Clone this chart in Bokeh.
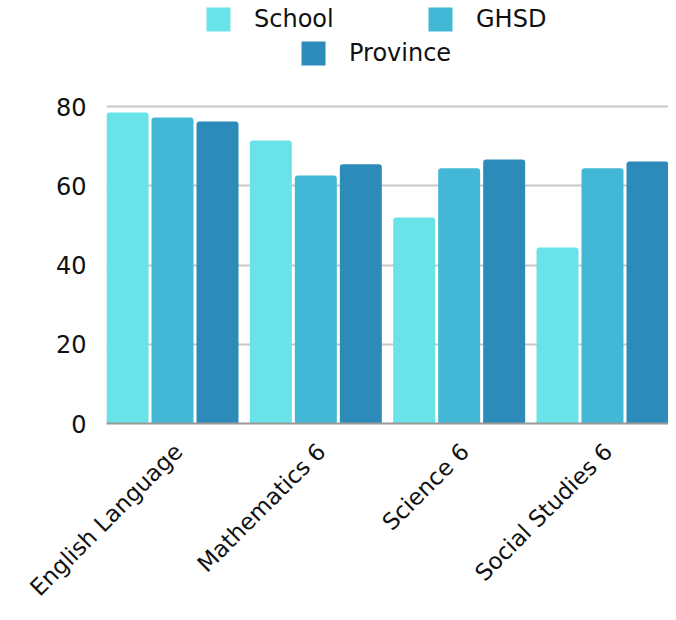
import math
from bokeh.plotting import figure
from bokeh.models import (ColumnDataSource, Range1d, FixedTicker, Legend, LegendItem)
from bokeh.transform import dodge
from bokeh.embed import file_html
from bokeh.resources import INLINE

# ---- data ----
categories = ["English Language", "Mathematics 6", "Science 6", "Social Studies 6"]
school = [78.5, 71.4, 52.0, 44.4]
ghsd = [77.2, 62.6, 64.4, 64.4]
province = [76.2, 65.4, 66.6, 66.1]
series_names = ["School", "GHSD", "Province"]
y_ticks = [0, 20, 40, 60, 80]

colors = ["#6ae3e8", "#43b8d6", "#2d8bb9"]
FONT = "DejaVu Sans"

src = ColumnDataSource(dict(x=list(range(len(categories))), cat=categories,
                            School=school, GHSD=ghsd, Province=province))

pitch = 0.314
bw = 0.293
half = pitch + bw / 2

# frame extends to the top of the canvas so the legend can sit inside it
FRAME_H = 423
PX_PER_UNIT = 317 / 80
y_end = FRAME_H / PX_PER_UNIT

p = figure(width=668, height=616, output_backend="svg", toolbar_location=None,
           x_range=Range1d(-half, len(categories) - 1 + half),
           y_range=Range1d(0, y_end),
           min_border_left=106, min_border_right=0, min_border_top=0,
           min_border_bottom=193)
p.outline_line_color = None
p.background_fill_color = "white"
p.border_fill_color = "white"

renderers = []
for k, (name, col) in enumerate(zip(series_names, colors)):
    r = p.vbar(x=dodge("x", (k - 1) * pitch, range=p.x_range), top=name, width=bw,
               source=src, fill_color=col, line_color=None, border_radius=[3, 3, 0, 0])
    renderers.append(r)

# axes
label_shift = 0.04
xt = [i + label_shift for i in range(len(categories))]
p.xaxis.ticker = FixedTicker(ticks=xt)
p.xaxis.major_label_overrides = {t: c for t, c in zip(xt, categories)}
p.xaxis.major_label_orientation = math.pi / 4
p.xaxis.major_label_text_font = FONT
p.xaxis.major_label_text_font_size = "23px"
p.xaxis.major_label_text_color = "#111111"
p.xaxis.major_tick_line_color = None
p.xaxis.minor_tick_line_color = None
p.xaxis.axis_line_color = "#999999"
p.xaxis.axis_line_width = 2
p.xaxis.major_label_standoff = 18

p.yaxis.ticker = FixedTicker(ticks=y_ticks)
p.yaxis.major_label_text_font = FONT
p.yaxis.major_label_text_font_size = "24px"
p.yaxis.major_label_text_color = "#111111"
p.yaxis.major_tick_line_color = None
p.yaxis.minor_tick_line_color = None
p.yaxis.axis_line_color = None
p.yaxis.major_label_standoff = 14

p.xgrid.grid_line_color = None
p.ygrid.grid_line_color = "#c8c8c8"
p.ygrid.grid_line_width = 2

# legends: one per item, placed as in the reference
legend_pos = [(97, 389), (319, 389), (192, 355)]
for name, r, loc in zip(series_names, renderers, legend_pos):
    lg = Legend(items=[LegendItem(label=name, renderers=[r])], location=loc,
                orientation="horizontal", padding=0, margin=0, spacing=0,
                glyph_width=30, glyph_height=30, label_standoff=21, label_height=30,
                label_text_font=FONT, label_text_font_size="24px",
                label_text_color="#111111",
                border_line_color=None, background_fill_alpha=0)
    p.add_layout(lg, "center")

open("out.html", "w").write(file_html(p, INLINE))
